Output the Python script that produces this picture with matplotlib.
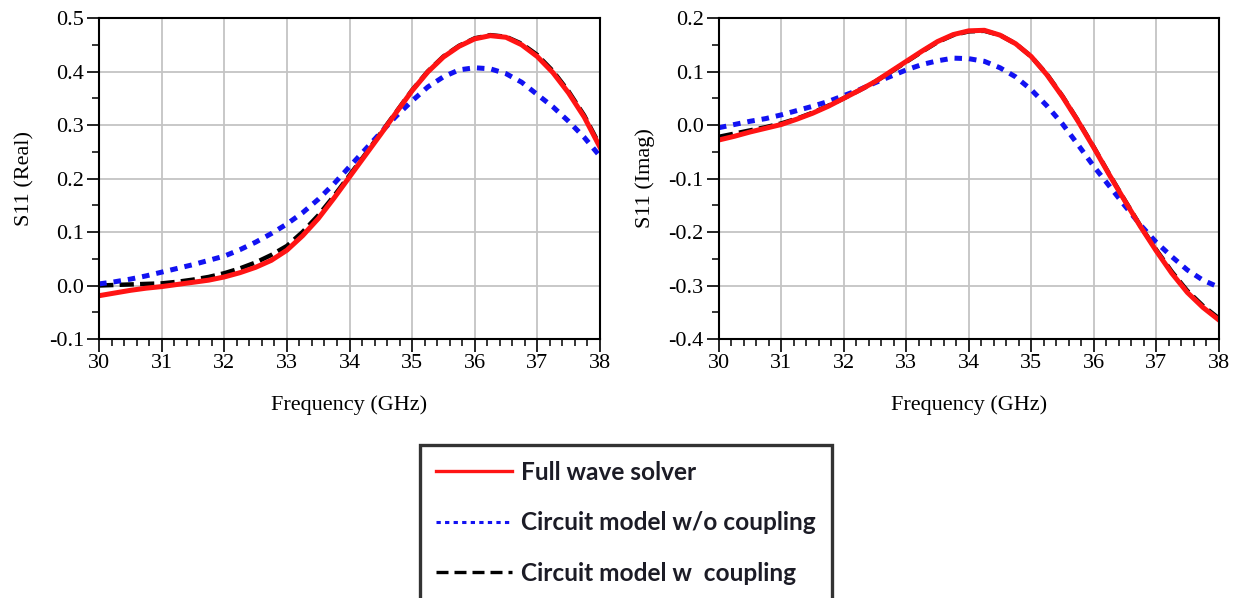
import matplotlib.pyplot as plt
from matplotlib.lines import Line2D
from matplotlib.ticker import MultipleLocator, FormatStrFormatter

plt.rcParams['axes.unicode_minus'] = False

# frequency points (GHz), 0.25 GHz step
freq = [30, 30.25, 30.5, 30.75, 31, 31.25, 31.5, 31.75, 32, 32.25, 32.5, 32.75, 33, 33.25, 33.5, 33.75,
        34, 34.25, 34.5, 34.75, 35, 35.25, 35.5, 35.75, 36, 36.25, 36.5, 36.75, 37, 37.25, 37.5, 37.75, 38]

# S11 real part
re_full = [-0.019, -0.014, -0.009, -0.005, -0.002, 0.002, 0.006, 0.010, 0.016, 0.024, 0.034, 0.047, 0.066, 0.093, 0.125, 0.163,
           0.203, 0.243, 0.283, 0.324, 0.364, 0.399, 0.427, 0.447, 0.461, 0.467, 0.464, 0.450, 0.428, 0.398, 0.360, 0.315, 0.259]
re_nocp = [0.003, 0.007, 0.012, 0.018, 0.025, 0.032, 0.039, 0.047, 0.055, 0.067, 0.081, 0.097, 0.115, 0.136, 0.161, 0.190,
           0.222, 0.254, 0.286, 0.317, 0.345, 0.371, 0.390, 0.403, 0.407, 0.405, 0.396, 0.380, 0.357, 0.334, 0.307, 0.277, 0.242]
re_cp = [0.000, 0.001, 0.002, 0.003, 0.004, 0.007, 0.011, 0.016, 0.023, 0.032, 0.043, 0.057, 0.074, 0.100, 0.131, 0.167,
         0.206, 0.245, 0.285, 0.325, 0.365, 0.400, 0.428, 0.448, 0.462, 0.468, 0.465, 0.452, 0.431, 0.401, 0.363, 0.318, 0.262]

# S11 imaginary part
im_full = [-0.028, -0.021, -0.013, -0.006, 0.001, 0.011, 0.022, 0.035, 0.050, 0.065, 0.081, 0.100, 0.119, 0.138, 0.156, 0.169,
           0.176, 0.177, 0.168, 0.152, 0.128, 0.094, 0.053, 0.007, -0.042, -0.093, -0.142, -0.190, -0.235, -0.277, -0.313, -0.341, -0.364]
im_nocp = [-0.005, 0.001, 0.007, 0.012, 0.019, 0.027, 0.035, 0.044, 0.055, 0.066, 0.079, 0.091, 0.103, 0.113, 0.120, 0.125,
           0.124, 0.119, 0.107, 0.090, 0.066, 0.036, 0.002, -0.037, -0.077, -0.114, -0.151, -0.187, -0.219, -0.246, -0.271, -0.290, -0.303]
im_cp = [-0.022, -0.016, -0.010, -0.004, 0.003, 0.012, 0.023, 0.036, 0.050, 0.065, 0.081, 0.099, 0.118, 0.137, 0.155, 0.168,
         0.175, 0.176, 0.168, 0.152, 0.128, 0.095, 0.054, 0.008, -0.041, -0.092, -0.141, -0.189, -0.233, -0.274, -0.310, -0.338, -0.361]

red, blue = '#ff1414', '#1212f2'
serif = 'Liberation Serif'

fig = plt.figure(figsize=(12.46, 5.98), dpi=100)
ax1 = fig.add_axes([0.0796, 0.4331, 0.4018, 0.5368])
ax2 = fig.add_axes([0.5770, 0.4331, 0.4010, 0.5368])

def draw(ax, full, nocp, cp, ylim, ylabel):
    ax.plot(freq, cp, color='black', lw=3.2, dashes=(3.2, 1.4))
    ax.plot(freq, nocp, color=blue, lw=3.6, dashes=(1.5, 1.4))
    ax.plot(freq, full, color=red, lw=3.6)
    ax.set_xlim(30, 38)
    ax.set_ylim(*ylim)
    ax.xaxis.set_major_locator(MultipleLocator(1))
    ax.xaxis.set_minor_locator(MultipleLocator(0.2))
    ax.yaxis.set_major_locator(MultipleLocator(0.1))
    ax.yaxis.set_minor_locator(MultipleLocator(0.05))
    ax.yaxis.set_major_formatter(FormatStrFormatter('%.1f'))
    ax.grid(True, which='major', color='#c4c4c4', lw=1.3)
    ax.tick_params(which='major', direction='out', length=9, width=1.2, labelsize=16, pad=2)
    ax.tick_params(which='minor', direction='out', length=5, width=1.1)
    for lab in ax.get_xticklabels() + ax.get_yticklabels():
        lab.set_fontfamily(serif)
    for s in ax.spines.values():
        s.set_linewidth(1.5)
    ax.set_xlabel('Frequency (GHz)', fontfamily=serif, fontsize=16, labelpad=16)
    ax.set_ylabel(ylabel, fontfamily=serif, fontsize=16, labelpad=10)

draw(ax1, re_full, re_nocp, re_cp, (-0.1, 0.5), 'S11 (Real)')
draw(ax2, im_full, im_nocp, im_cp, (-0.4, 0.2), 'S11 (Imag)')

# legend handles drawn a bit thinner than the curves
handles = [Line2D([], [], color=red, lw=2.4),
           Line2D([], [], color=blue, lw=2.2, dashes=(1.4, 1.4)),
           Line2D([], [], color='black', lw=2.4, dashes=(3.6, 1.8))]
labels = ['Full wave solver', 'Circuit model w/o coupling', 'Circuit model w  coupling']
leg = fig.legend(handles, labels, loc='upper left', bbox_to_anchor=(420 / 1246, 1 - 445 / 598),
                 frameon=True, fancybox=False, handlelength=3.1, handletextpad=0.4,
                 labelspacing=1.12, borderpad=0.65, borderaxespad=0,
                 prop={'family': 'Lato', 'weight': 'bold', 'size': 17.6})
leg.get_frame().set_edgecolor('black')
leg.get_frame().set_linewidth(2.4)
for t in leg.get_texts():
    t.set_color('#1c1c26')

fig.savefig('out.png', dpi=100)
